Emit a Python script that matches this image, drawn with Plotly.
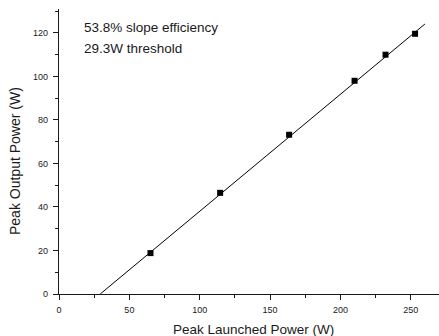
import plotly.graph_objects as go

# Measured data points
launched_power = [65, 114.5, 163.5, 210, 232, 253]
output_power = [18.8, 46.5, 73.2, 98.0, 110.0, 119.6]

# Linear fit (threshold 29.3 W, slope 0.538) endpoints
fit_x = [29.3, 260]
fit_y = [0.0, 124.1]

x_ticks = [0, 50, 100, 150, 200, 250]
y_ticks = [0, 20, 40, 60, 80, 100, 120]

annotation_lines = ["53.8% slope efficiency", "29.3W threshold"]
x_title = "Peak Launched Power (W)"
y_title = "Peak Output Power (W)"

FONT = "Liberation Sans, Arial, sans-serif"
INK = "#1a1a1a"

fig = go.Figure()
fig.add_trace(go.Scatter(x=fit_x, y=fit_y, mode="lines",
                         line=dict(color="black", width=1), showlegend=False,
                         hoverinfo="skip"))
fig.add_trace(go.Scatter(x=launched_power, y=output_power, mode="markers",
                         marker=dict(symbol="square", size=6, color="black"),
                         showlegend=False))

axis_common = dict(showgrid=False, zeroline=False, showline=True,
                   linecolor=INK, linewidth=1.3, ticks="outside", ticklen=5,
                   tickwidth=1.2, tickcolor=INK,
                   tickfont=dict(family=FONT, size=9, color=INK))

fig.update_xaxes(range=[0, 270], tickvals=x_ticks,
                 minor=dict(ticks="outside", dtick=25, tick0=0, ticklen=3,
                            tickwidth=1, tickcolor=INK),
                 ticklabelstandoff=2,
                 **axis_common)
fig.update_yaxes(range=[0, 131], tickvals=y_ticks,
                 minor=dict(ticks="outside", dtick=10, tick0=0, ticklen=3,
                            tickwidth=1, tickcolor=INK),
                 ticklabelstandoff=3,
                 **axis_common)

annotations = [
    dict(x=82 / 439, y=1 - 27.7 / 336, xref="paper", yref="paper",
         text=annotation_lines[0], showarrow=False, xanchor="left", yanchor="middle",
         font=dict(family=FONT, size=13.5, color=INK)),
    dict(x=82 / 439, y=1 - 48.3 / 336, xref="paper", yref="paper",
         text=annotation_lines[1], showarrow=False, xanchor="left", yanchor="middle",
         font=dict(family=FONT, size=13.5, color=INK)),
    dict(x=253 / 439, y=1 - 329 / 336, xref="paper", yref="paper",
         text=x_title, showarrow=False, xanchor="center", yanchor="middle",
         font=dict(family=FONT, size=13.5, color=INK)),
    dict(x=15 / 439, y=1 - 161 / 336, xref="paper", yref="paper",
         text=y_title, showarrow=False, xanchor="center", yanchor="middle",
         textangle=-90, font=dict(family=FONT, size=14, color=INK)),
]

# convert paper coords relative to full figure -> plotly paper is plot area; use container refs instead
for a in annotations:
    a["xref"] = "paper"
    a["yref"] = "paper"

W, H = 439, 336
ml, mr, mt, mb = 59, 0, 9, 42
pw, ph = W - ml - mr, H - mt - mb
fixed = []
for a in annotations:
    px = a["x"] * W
    py = (1 - a["y"]) * H
    a["x"] = (px - ml) / pw
    a["y"] = 1 - (py - mt) / ph
    fixed.append(a)

fig.update_layout(width=W, height=H, margin=dict(l=ml, r=mr, t=mt, b=mb),
                  paper_bgcolor="white", plot_bgcolor="white",
                  annotations=fixed, font=dict(family=FONT, color=INK))

fig.write_html("out.html")
